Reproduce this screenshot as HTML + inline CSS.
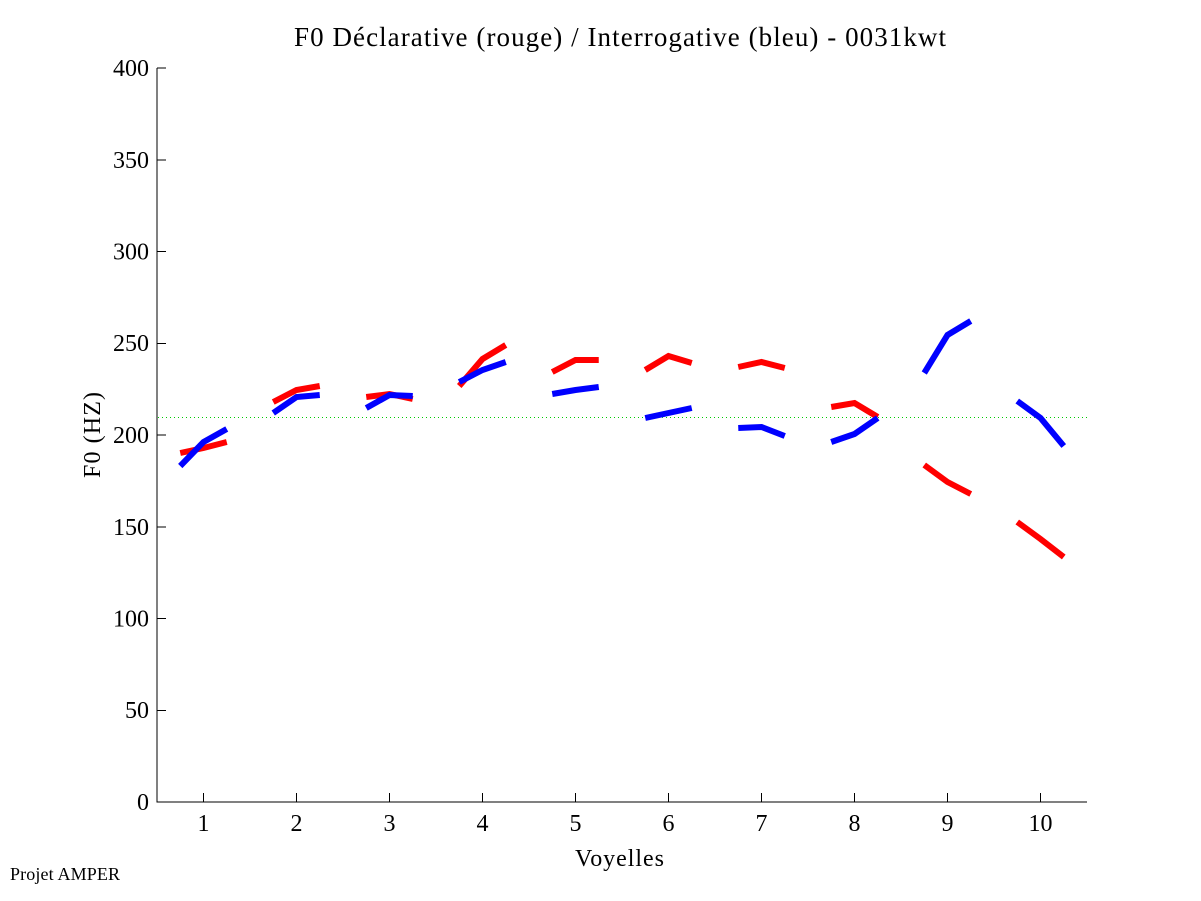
<!DOCTYPE html>
<html>
<head>
<meta charset="utf-8">
<style>
  html, body { margin: 0; padding: 0; background: #fff; }
  svg { display: block; }
  text { font-family: "Liberation Serif", "Times New Roman", serif; fill: #000; }
</style>
</head>
<body>
<svg width="1201" height="901" viewBox="0 0 1201 901" xmlns="http://www.w3.org/2000/svg">
  <rect width="1201" height="901" fill="#fff"/>

  <!-- Title -->
  <text x="294" y="46" font-size="27" textLength="652" lengthAdjust="spacing">F0 Déclarative (rouge) / Interrogative (bleu) - 0031kwt</text>

  <!-- Axes -->
  <g stroke="#000" stroke-width="1" fill="none" shape-rendering="crispEdges">
    <line x1="157" y1="68" x2="157" y2="802.5"/>
    <line x1="157" y1="802" x2="1087" y2="802"/>
    <!-- y ticks -->
    <line x1="157" y1="802" x2="166" y2="802"/>
    <line x1="157" y1="710.25" x2="166" y2="710.25"/>
    <line x1="157" y1="618.5" x2="166" y2="618.5"/>
    <line x1="157" y1="526.75" x2="166" y2="526.75"/>
    <line x1="157" y1="435" x2="166" y2="435"/>
    <line x1="157" y1="343.25" x2="166" y2="343.25"/>
    <line x1="157" y1="251.5" x2="166" y2="251.5"/>
    <line x1="157" y1="159.75" x2="166" y2="159.75"/>
    <line x1="157" y1="68" x2="166" y2="68"/>
    <!-- x ticks -->
    <line x1="203.5" y1="802" x2="203.5" y2="793"/>
    <line x1="296.5" y1="802" x2="296.5" y2="793"/>
    <line x1="389.5" y1="802" x2="389.5" y2="793"/>
    <line x1="482.5" y1="802" x2="482.5" y2="793"/>
    <line x1="575.5" y1="802" x2="575.5" y2="793"/>
    <line x1="668.5" y1="802" x2="668.5" y2="793"/>
    <line x1="761.5" y1="802" x2="761.5" y2="793"/>
    <line x1="854.5" y1="802" x2="854.5" y2="793"/>
    <line x1="947.5" y1="802" x2="947.5" y2="793"/>
    <line x1="1040.5" y1="802" x2="1040.5" y2="793"/>
  </g>

  <!-- y tick labels -->
  <g font-size="24" text-anchor="end">
    <text x="149" y="810">0</text>
    <text x="149" y="718">50</text>
    <text x="149" y="626.5">100</text>
    <text x="149" y="535">150</text>
    <text x="149" y="443">200</text>
    <text x="149" y="351">250</text>
    <text x="149" y="259.5">300</text>
    <text x="149" y="168">350</text>
    <text x="149" y="76">400</text>
  </g>

  <!-- x tick labels -->
  <g font-size="24" text-anchor="middle">
    <text x="203.5" y="831">1</text>
    <text x="296.5" y="831">2</text>
    <text x="389.5" y="831">3</text>
    <text x="482.5" y="831">4</text>
    <text x="575.5" y="831">5</text>
    <text x="668.5" y="831">6</text>
    <text x="761.5" y="831">7</text>
    <text x="854.5" y="831">8</text>
    <text x="947.5" y="831">9</text>
    <text x="1040.5" y="831">10</text>
  </g>

  <!-- axis labels -->
  <text x="575" y="866" font-size="24" textLength="89" lengthAdjust="spacing">Voyelles</text>
  <text x="-43" y="0" font-size="24" textLength="86" lengthAdjust="spacing" transform="translate(100,435) rotate(-90)">F0 (HZ)</text>

  <!-- reference dotted line -->
  <line x1="158" y1="417.5" x2="1087" y2="417.5" stroke="#00cc00" stroke-width="1" stroke-dasharray="1 3" shape-rendering="crispEdges"/>

  <!-- Red (declarative) -->
  <g stroke="#ff0000" stroke-width="6" fill="none" stroke-linejoin="miter" stroke-linecap="butt">
    <polyline points="180.25,453 203.5,448 226.75,442"/>
    <polyline points="273.25,402 296.5,390 319.75,386"/>
    <polyline points="366.25,397 389.5,394 412.75,399"/>
    <polyline points="459.25,386 482.5,359 505.75,345"/>
    <polyline points="552.25,372 575.5,360 598.75,360"/>
    <polyline points="645.25,370 668.5,356 691.75,363"/>
    <polyline points="738.25,367 761.5,362 784.75,368"/>
    <polyline points="831.25,407 854.5,403 877.75,417"/>
    <polyline points="924.25,465 947.5,482 970.75,494"/>
    <polyline points="1017.25,522 1040.5,539 1063.75,557"/>
  </g>

  <!-- Blue (interrogative) -->
  <g stroke="#0000ff" stroke-width="6" fill="none" stroke-linejoin="miter" stroke-linecap="butt">
    <polyline points="180.25,466 203.5,442 226.75,429"/>
    <polyline points="273.25,413 296.5,397 319.75,395"/>
    <polyline points="366.25,408 389.5,395 412.75,396"/>
    <polyline points="459.25,382 482.5,370 505.75,362"/>
    <polyline points="552.25,394 575.5,390 598.75,387"/>
    <polyline points="645.25,418 668.5,413 691.75,408"/>
    <polyline points="738.25,428 761.5,427 784.75,436"/>
    <polyline points="831.25,442 854.5,434 877.75,418"/>
    <polyline points="924.25,373 947.5,335 970.75,321"/>
    <polyline points="1017.25,401 1040.5,418 1063.75,446"/>
  </g>

  <!-- footer -->
  <text x="10" y="880" font-size="18" textLength="110" lengthAdjust="spacing">Projet AMPER</text>
</svg>
</body>
</html>
